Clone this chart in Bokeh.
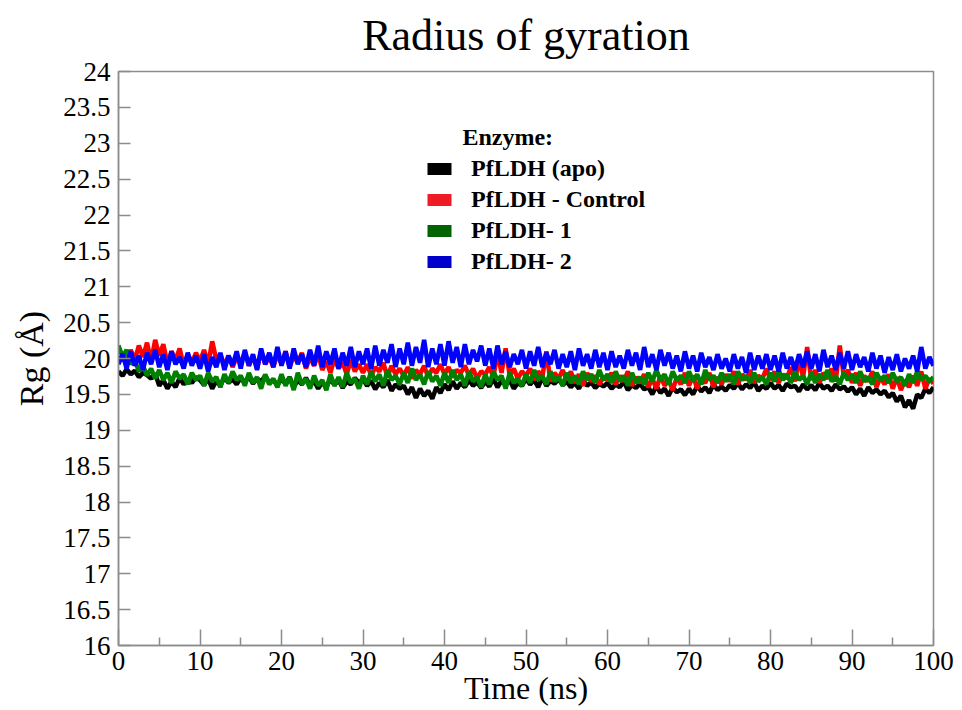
from bokeh.plotting import figure
from bokeh.models import Range1d, Legend, LegendItem, Label, FixedTicker, CustomJSTickFormatter
from bokeh.embed import file_html
from bokeh.resources import INLINE

# ---------------- data ----------------
time_ns = [i / 2 for i in range(201)]  # 0 .. 100 ns, 0.5 ns sampling

rg_apo = [
    19.82, 19.76, 19.85, 19.78, 19.83, 19.74, 19.80, 19.77, 19.72, 19.79,
    19.62, 19.70, 19.58, 19.68, 19.60, 19.73, 19.64, 19.71, 19.66, 19.74,
    19.70, 19.63, 19.72, 19.58, 19.69, 19.62, 19.74, 19.66, 19.71, 19.64,
    19.73, 19.67, 19.75, 19.65, 19.72, 19.68, 19.76, 19.66, 19.70, 19.63,
    19.71, 19.65, 19.74, 19.60, 19.70, 19.64, 19.73, 19.62, 19.69, 19.58,
    19.67, 19.60, 19.72, 19.63, 19.70, 19.59, 19.68, 19.64, 19.73, 19.66,
    19.71, 19.62, 19.69, 19.57, 19.66, 19.60, 19.70, 19.55, 19.64, 19.58,
    19.62, 19.50, 19.60, 19.45, 19.58, 19.48, 19.55, 19.44, 19.60, 19.52,
    19.64, 19.56, 19.68, 19.58, 19.66, 19.60, 19.70, 19.62, 19.67, 19.59,
    19.68, 19.61, 19.72, 19.60, 19.69, 19.63, 19.70, 19.58, 19.66, 19.62,
    19.72, 19.64, 19.70, 19.60, 19.74, 19.62, 19.69, 19.65, 19.71, 19.63,
    19.68, 19.60, 19.66, 19.58, 19.70, 19.62, 19.67, 19.59, 19.65, 19.61,
    19.66, 19.58, 19.64, 19.60, 19.68, 19.56, 19.63, 19.59, 19.65, 19.57,
    19.60, 19.50, 19.62, 19.52, 19.58, 19.48, 19.60, 19.53, 19.57, 19.49,
    19.58, 19.50, 19.62, 19.54, 19.60, 19.52, 19.64, 19.56, 19.61, 19.55,
    19.63, 19.58, 19.66, 19.57, 19.64, 19.59, 19.67, 19.55, 19.62, 19.58,
    19.66, 19.58, 19.63, 19.55, 19.65, 19.60, 19.62, 19.54, 19.64, 19.57,
    19.63, 19.56, 19.66, 19.58, 19.62, 19.55, 19.64, 19.57, 19.61, 19.54,
    19.60, 19.50, 19.58, 19.48, 19.60, 19.52, 19.57, 19.50, 19.55, 19.46,
    19.52, 19.40, 19.48, 19.32, 19.42, 19.30, 19.50, 19.45, 19.58, 19.52,
    19.60,
]

rg_control = [
    19.95, 20.05, 19.90, 20.12, 19.98, 20.18, 20.02, 20.22, 19.96, 20.26,
    20.04, 20.20, 19.92, 20.10, 19.98, 20.14, 19.90, 20.06, 19.94, 20.08,
    19.96, 20.12, 19.92, 20.24, 19.98, 20.06, 19.90, 20.04, 19.88, 20.02,
    19.94, 20.08, 19.90, 20.04, 19.86, 20.10, 19.92, 20.02, 19.88, 20.06,
    19.92, 20.10, 19.88, 20.04, 19.94, 20.08, 19.86, 20.02, 19.90, 20.06,
    19.84, 19.96, 19.80, 20.00, 19.86, 19.94, 19.78, 19.98, 19.82, 19.92,
    19.80, 19.92, 19.76, 19.88, 19.82, 19.94, 19.74, 19.90, 19.78, 19.86,
    19.76, 19.88, 19.72, 19.84, 19.78, 19.90, 19.74, 19.86, 19.80, 19.92,
    19.78, 19.88, 19.74, 19.84, 19.80, 19.90, 19.76, 19.86, 19.72, 19.82,
    19.78, 19.88, 19.74, 20.08, 19.80, 20.14, 19.76, 19.86, 19.72, 19.82,
    19.76, 19.86, 19.70, 19.82, 19.74, 20.10, 19.68, 19.80, 19.72, 19.84,
    19.70, 19.82, 19.66, 19.78, 19.62, 19.80, 19.68, 19.76, 19.64, 19.74,
    19.70, 19.80, 19.64, 19.76, 19.68, 19.82, 19.62, 19.74, 19.66, 19.78,
    19.60, 19.72, 19.58, 19.76, 19.62, 19.70, 19.56, 19.74, 19.64, 19.80,
    19.62, 19.76, 19.58, 19.72, 19.66, 19.80, 19.60, 19.74, 19.64, 19.78,
    19.68, 19.82, 19.64, 19.78, 19.70, 19.84, 19.66, 19.76, 19.72, 19.86,
    19.70, 19.82, 19.66, 19.78, 19.72, 19.88, 19.68, 20.00, 19.74, 20.16,
    19.70, 19.84, 19.66, 19.80, 19.72, 19.86, 19.68, 20.18, 19.74, 19.84,
    19.66, 19.80, 19.62, 19.76, 19.68, 19.82, 19.60, 19.74, 19.64, 19.78,
    19.58, 19.74, 19.56, 19.70, 19.60, 19.76, 19.62, 19.82, 19.58, 19.72,
    19.65,
]

rg_lig1 = [
    20.18, 20.02, 20.12, 19.92, 19.98, 19.82, 19.90, 19.76, 19.86, 19.72,
    19.84, 19.70, 19.80, 19.66, 19.82, 19.72, 19.78, 19.64, 19.80, 19.70,
    19.76, 19.62, 19.80, 19.68, 19.74, 19.60, 19.78, 19.66, 19.82, 19.70,
    19.76, 19.62, 19.80, 19.66, 19.74, 19.58, 19.78, 19.64, 19.72, 19.60,
    19.78, 19.62, 19.74, 19.56, 19.80, 19.64, 19.72, 19.58, 19.76, 19.62,
    19.70, 19.56, 19.78, 19.62, 19.74, 19.60, 19.80, 19.66, 19.72, 19.58,
    19.76, 19.64, 19.82, 19.68, 19.78, 19.62, 19.84, 19.70, 19.76, 19.64,
    19.80, 19.66, 19.86, 19.70, 19.78, 19.64, 19.82, 19.68, 19.76, 19.62,
    19.80, 19.66, 19.84, 19.70, 19.78, 19.62, 19.82, 19.68, 19.74, 19.60,
    19.78, 19.64, 19.82, 19.70, 19.76, 19.58, 19.80, 19.66, 19.72, 19.62,
    19.78, 19.66, 19.84, 19.70, 19.76, 19.64, 19.82, 19.68, 19.74, 19.62,
    19.80, 19.66, 19.76, 19.64, 19.82, 19.70, 19.78, 19.66, 19.84, 19.70,
    19.78, 19.66, 19.82, 19.68, 19.76, 19.62, 19.80, 19.66, 19.74, 19.64,
    19.80, 19.68, 19.84, 19.70, 19.78, 19.64, 19.82, 19.70, 19.76, 19.66,
    19.82, 19.68, 19.78, 19.64, 19.84, 19.70, 19.76, 19.66, 19.80, 19.68,
    19.78, 19.64, 19.82, 19.70, 19.76, 19.66, 19.80, 19.68, 19.74, 19.64,
    19.80, 19.68, 19.84, 19.70, 19.78, 19.66, 19.82, 19.70, 19.76, 19.64,
    19.80, 19.66, 19.78, 19.70, 19.84, 19.68, 19.76, 19.64, 19.80, 19.70,
    19.78, 19.66, 19.82, 19.68, 19.74, 19.64, 19.80, 19.70, 19.76, 19.66,
    19.80, 19.68, 19.74, 19.62, 19.78, 19.66, 19.82, 19.70, 19.76, 19.68,
    19.74,
]

rg_lig2 = [
    19.92, 20.06, 19.86, 20.10, 19.90, 20.04, 19.84, 20.08, 19.92, 20.12,
    19.88, 20.06, 19.84, 20.10, 19.92, 20.02, 19.86, 20.08, 19.90, 20.04,
    19.86, 20.06, 19.82, 20.02, 19.88, 20.08, 19.84, 20.04, 19.90, 20.10,
    19.86, 20.12, 19.90, 20.06, 19.84, 20.14, 19.92, 20.08, 19.88, 20.16,
    19.90, 20.10, 19.86, 20.14, 19.92, 20.06, 19.88, 20.12, 19.90, 20.18,
    19.88, 20.10, 19.92, 20.14, 19.86, 20.08, 19.90, 20.16, 19.88, 20.10,
    19.92, 20.14, 19.86, 20.18, 19.90, 20.12, 19.94, 20.20, 19.88, 20.14,
    19.92, 20.22, 19.90, 20.16, 19.94, 20.26, 19.88, 20.14, 19.92, 20.20,
    19.90, 20.24, 19.94, 20.16, 19.88, 20.20, 19.92, 20.12, 19.96, 20.18,
    19.90, 20.14, 19.86, 20.18, 19.92, 20.10, 19.88, 20.06, 19.92, 20.12,
    19.86, 20.10, 19.90, 20.16, 19.88, 20.08, 19.92, 20.12, 19.86, 20.06,
    19.88, 20.10, 19.84, 20.14, 19.90, 20.06, 19.86, 20.12, 19.88, 20.08,
    19.84, 20.10, 19.88, 20.04, 19.86, 20.12, 19.90, 20.08, 19.84, 20.16,
    19.88, 20.06, 19.84, 20.12, 19.90, 20.08, 19.86, 20.04, 19.82, 20.10,
    19.86, 20.04, 19.82, 20.08, 19.88, 20.02, 19.84, 20.06, 19.86, 20.00,
    19.82, 20.06, 19.86, 20.02, 19.80, 20.08, 19.84, 20.04, 19.86, 20.06,
    19.84, 20.04, 19.82, 20.08, 19.86, 20.02, 19.84, 20.06, 19.88, 20.10,
    19.86, 20.06, 19.82, 20.12, 19.88, 20.04, 19.84, 20.08, 19.86, 20.10,
    19.84, 20.06, 19.88, 20.02, 19.82, 20.08, 19.86, 20.04, 19.80, 20.02,
    19.84, 20.06, 19.82, 20.00, 19.86, 20.04, 19.82, 20.16, 19.86, 20.02,
    19.90,
]

series_names = ["PfLDH (apo)", "PfLDH - Control", "PfLDH- 1", "PfLDH- 2"]
series_values = [rg_apo, rg_control, rg_lig1, rg_lig2]
series_colors = ["#000000", "#ff0000", "#008000", "#0000ff"]
legend_colors = ["#000000", "#ee1c25", "#006400", "#0000cc"]

x_ticks = [0, 10, 20, 30, 40, 50, 60, 70, 80, 90, 100]
x_minor = [5, 15, 25, 35, 45, 55, 65, 75, 85, 95]
y_ticks = [16, 16.5, 17, 17.5, 18, 18.5, 19, 19.5, 20, 20.5, 21, 21.5, 22, 22.5, 23, 23.5, 24]

SERIF = "Liberation Serif"
GREY = "#8c8c8c"

p = figure(width=954, height=710, output_backend="svg", toolbar_location=None,
           x_range=Range1d(0, 100), y_range=Range1d(16, 24),
           min_border_left=118, min_border_right=21, min_border_top=71, min_border_bottom=65,
           background_fill_color="white", border_fill_color="white")

p.title.text = "Radius of gyration"
p.title.text_font = SERIF
p.title.text_font_size = "44px"
p.title.text_font_style = "normal"
p.title.align = "center"
p.title.vertical_align = "top"
p.title.text_color = "black"
p.title.standoff = 19

p.xgrid.visible = False
p.ygrid.visible = False
p.outline_line_color = GREY
p.outline_line_width = 1.5

for ax in (p.xaxis[0], p.yaxis[0]):
    ax.axis_line_color = GREY
    ax.axis_line_width = 1.5
    ax.major_tick_line_color = GREY
    ax.major_tick_line_width = 1.5
    ax.major_tick_out = 0
    ax.minor_tick_out = 0
    ax.major_label_text_font = SERIF
    ax.major_label_text_font_size = "27px"
    ax.major_label_text_color = "black"
    ax.axis_label_text_font = SERIF
    ax.axis_label_text_font_style = "normal"
    ax.axis_label_text_color = "black"
    ax.formatter = CustomJSTickFormatter(code="return tick.toString();")

p.xaxis.ticker = FixedTicker(ticks=x_ticks, minor_ticks=x_minor)
p.yaxis.ticker = FixedTicker(ticks=y_ticks)
p.xaxis.major_tick_in = 16
p.xaxis.minor_tick_in = 8
p.xaxis.minor_tick_line_color = GREY
p.xaxis.minor_tick_line_width = 1.5
p.yaxis.major_tick_in = 12
p.yaxis.minor_tick_line_color = None
p.xaxis.major_label_standoff = 6
p.yaxis.major_label_standoff = 8
p.xaxis.axis_label = "Time (ns)"
p.yaxis.axis_label = "Rg (Å)"
p.xaxis.axis_label_text_font_size = "32px"
p.yaxis.axis_label_text_font_size = "34px"
p.xaxis.axis_label_standoff = -3
p.yaxis.axis_label_standoff = 10

for vals, col in zip(series_values, series_colors):
    p.line(time_ns, vals, line_color=col, line_width=4.5)

# legend swatches: zero-size quads anchored on each series' first sample
items = []
for name, col, vals in zip(series_names, legend_colors, series_values):
    r = p.quad(left=time_ns[:1], right=time_ns[:1], top=vals[:1], bottom=vals[:1],
               fill_color=col, line_color=None)
    items.append(LegendItem(label=name, renderers=[r]))

legend = Legend(items=items, location=(306, 370), orientation="vertical",
                padding=0, margin=0, spacing=4, glyph_width=30, glyph_height=15,
                label_height=26, label_standoff=17,
                label_text_font=SERIF, label_text_font_size="24px",
                label_text_font_style="bold", label_text_color="black",
                border_line_alpha=0, background_fill_alpha=0)
p.add_layout(legend, "center")

p.add_layout(Label(x=42.2, y=23.09, text="Enzyme:", text_font=SERIF,
                   text_font_size="24px", text_font_style="bold",
                   text_color="black", text_baseline="alphabetic"))

open("out.html", "w").write(file_html(p, INLINE))
